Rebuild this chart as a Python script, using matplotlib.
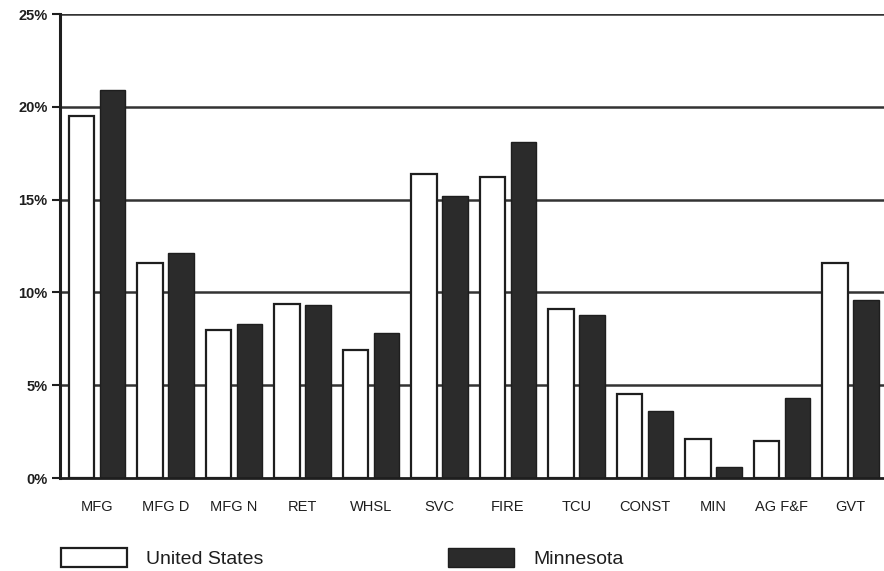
import numpy as np
import matplotlib.pyplot as plt

plt.rcParams['font.family'] = ['Liberation Sans', 'DejaVu Sans']

# employment share by industry, percent
categories = ['MFG', 'MFG D', 'MFG N', 'RET', 'WHSL', 'SVC', 'FIRE',
              'TCU', 'CONST', 'MIN', 'AG F&F', 'GVT']
us = [19.5, 11.6, 8.0, 9.4, 6.9, 16.4, 16.2, 9.1, 4.5, 2.1, 2.0, 11.6]
mn = [20.9, 12.1, 8.3, 9.3, 7.8, 15.2, 18.1, 8.8, 3.6, 0.6, 4.3, 9.6]
yticks = [0, 5, 10, 15, 20, 25]

ink = '#1e1e1e'
x = np.arange(len(categories))
w = 0.37

fig = plt.figure(figsize=(8.84, 5.71), dpi=100)
ax = fig.add_axes([60 / 884, 93 / 571, 1 - 60 / 884, 464 / 571])

for yv in yticks[1:]:
    ax.axhline(yv, color='#333333', lw=1.8, zorder=1)

b1 = ax.bar(x - 0.225, us, w, color='white', edgecolor=ink, lw=1.6,
            zorder=2, label='United States')
b2 = ax.bar(x + 0.225, mn, w, color='#2b2b2b', edgecolor=ink, lw=1.0,
            zorder=2, label='Minnesota')

ax.set_xlim(-0.54, 11.49)
ax.set_ylim(0, 25)
ax.set_yticks(yticks)
ax.set_yticklabels([f'{v}%' for v in yticks], fontsize=10.5,
                   fontweight='bold', color=ink)
ax.set_xticks(x)
ax.set_xticklabels(categories, fontsize=10.5, color=ink)
ax.tick_params(axis='x', length=0, pad=16)
ax.tick_params(axis='y', length=6, width=1.5, color=ink, pad=3)

for s in ['top', 'right']:
    ax.spines[s].set_visible(False)
ax.spines['left'].set_linewidth(2.2)
ax.spines['left'].set_color(ink)
ax.spines['bottom'].set_linewidth(2.0)
ax.spines['bottom'].set_color(ink)
ax.spines['bottom'].set_zorder(3)

fig.legend(handles=[b1, b2], loc='lower left',
           bbox_to_anchor=(43 / 884, -0.026), ncol=2, frameon=False,
           fontsize=14, handlelength=3.4, handleheight=1.1,
           columnspacing=9.5, handletextpad=1.0,
           labelcolor=ink)

fig.savefig('out.png', dpi=100)
